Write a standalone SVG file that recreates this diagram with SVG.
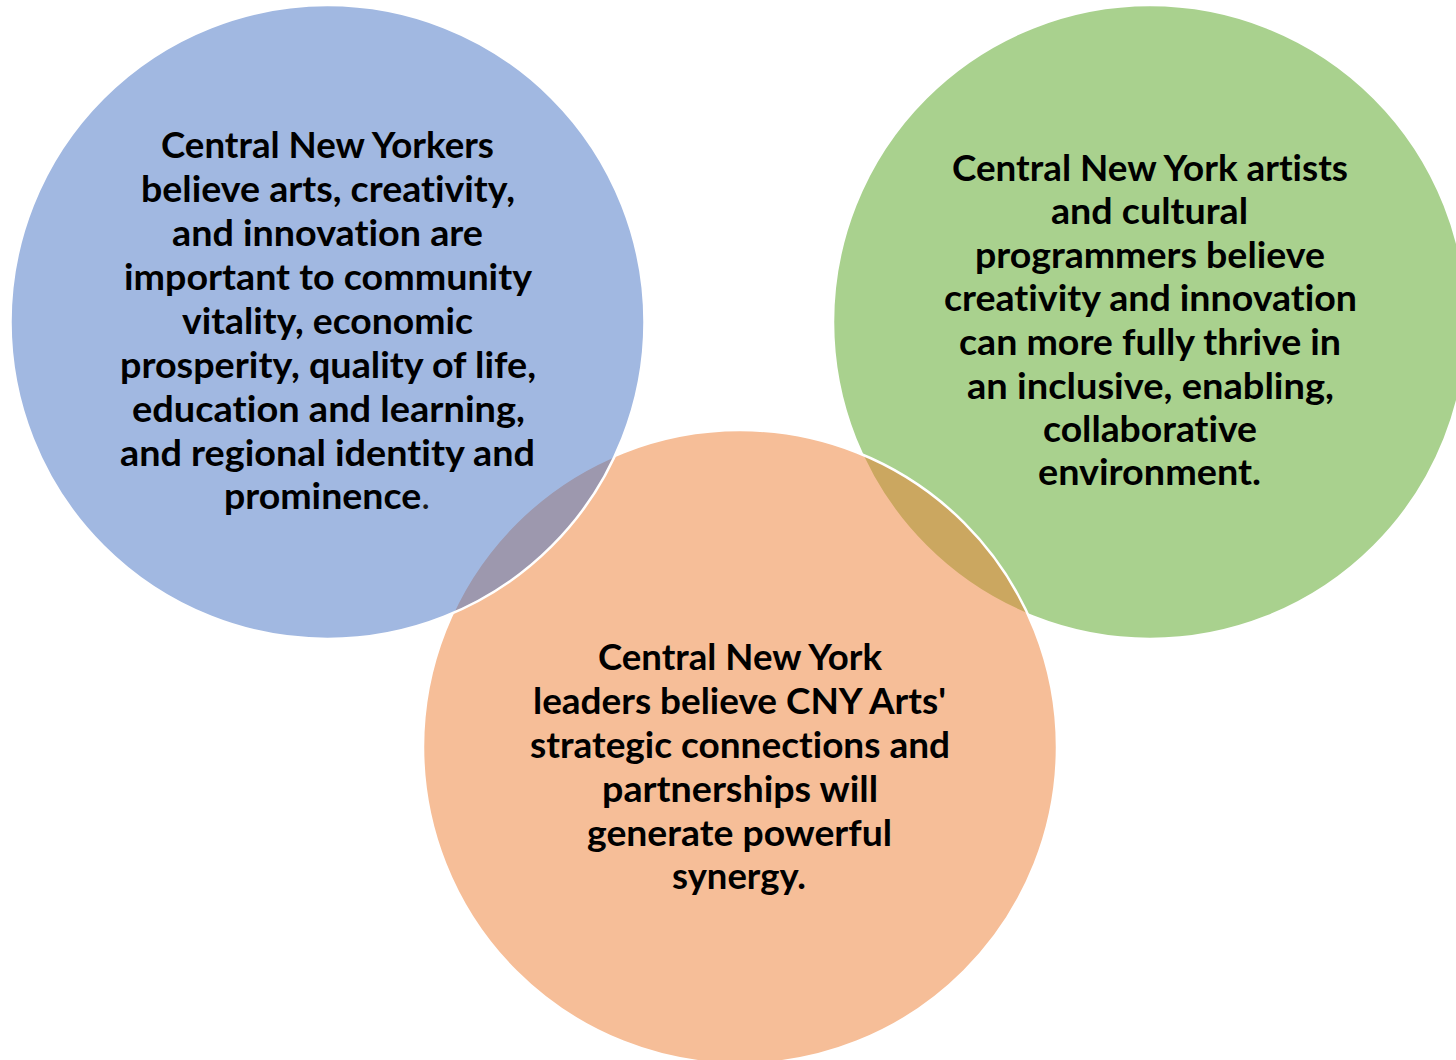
<svg xmlns="http://www.w3.org/2000/svg" width="1456" height="1060" viewBox="0 0 1456 1060">
<style>
.c{stroke:#FFFFFF;stroke-width:2.5}
.t{font-family:Lato,"Open Sans","Liberation Sans",sans-serif;font-weight:bold;font-size:37px;fill:#000000;text-anchor:middle;font-variant-ligatures:none;font-feature-settings:"liga" 0,"clig" 0}
</style>
<rect width="1456" height="1060" fill="#FFFFFF"/>
<g id="node-green">
<circle class="c" cx="1150" cy="322" r="317" fill="#A9D18E"/>
</g>
<g id="node-orange">
<circle class="c" cx="740" cy="747" r="317" fill="#ED7D31" fill-opacity="0.5"/>
</g>
<g id="node-blue">
<circle class="c" cx="327.5" cy="322" r="317" fill="#4472C4" fill-opacity="0.5"/>
</g>
<g id="text-blue">
<text class="t" x="327.5" y="158" textLength="333" lengthAdjust="spacingAndGlyphs">Central New Yorkers</text>
<text class="t" x="328" y="202" textLength="374" lengthAdjust="spacingAndGlyphs">believe arts, creativity,</text>
<text class="t" x="327.5" y="246" textLength="311" lengthAdjust="spacingAndGlyphs">and innovation are</text>
<text class="t" x="328" y="290" textLength="408" lengthAdjust="spacingAndGlyphs">important to community</text>
<text class="t" x="327.5" y="334" textLength="291" lengthAdjust="spacingAndGlyphs">vitality, economic</text>
<text class="t" x="328" y="378" textLength="416" lengthAdjust="spacingAndGlyphs">prosperity, quality of life,</text>
<text class="t" x="328.5" y="422" textLength="393" lengthAdjust="spacingAndGlyphs">education and learning,</text>
<text class="t" x="327.5" y="466" textLength="415" lengthAdjust="spacingAndGlyphs">and regional identity and</text>
<text class="t" x="327" y="509" textLength="206" lengthAdjust="spacingAndGlyphs">prominence<tspan font-weight="normal" fill="#1a1a1a">.</tspan></text>
</g>
<g id="text-green">
<text class="t" x="1150" y="181" textLength="396" lengthAdjust="spacingAndGlyphs">Central New York artists</text>
<text class="t" x="1149.5" y="224" textLength="197" lengthAdjust="spacingAndGlyphs">and cultural</text>
<text class="t" x="1150" y="268" textLength="350" lengthAdjust="spacingAndGlyphs">programmers believe</text>
<text class="t" x="1150.5" y="311" textLength="413" lengthAdjust="spacingAndGlyphs">creativity and innovation</text>
<text class="t" x="1150" y="355" textLength="382" lengthAdjust="spacingAndGlyphs">can more fully thrive in</text>
<text class="t" x="1150.5" y="399" textLength="367" lengthAdjust="spacingAndGlyphs">an inclusive, enabling,</text>
<text class="t" x="1150" y="442" textLength="214" lengthAdjust="spacingAndGlyphs">collaborative</text>
<text class="t" x="1149.5" y="485" textLength="223" lengthAdjust="spacingAndGlyphs">environment.</text>
</g>
<g id="text-orange">
<text class="t" x="740" y="670" textLength="284" lengthAdjust="spacingAndGlyphs">Central New York</text>
<text class="t" x="739.5" y="714" textLength="413" lengthAdjust="spacingAndGlyphs">leaders believe CNY Arts'</text>
<text class="t" x="740" y="758" textLength="420" lengthAdjust="spacingAndGlyphs">strategic connections and</text>
<text class="t" x="740" y="802" textLength="276" lengthAdjust="spacingAndGlyphs">partnerships will</text>
<text class="t" x="739.5" y="846" textLength="305" lengthAdjust="spacingAndGlyphs">generate powerful</text>
<text class="t" x="739" y="889" textLength="134" lengthAdjust="spacingAndGlyphs">synergy.</text>
</g>
<g id="connectors"></g>
</svg>
